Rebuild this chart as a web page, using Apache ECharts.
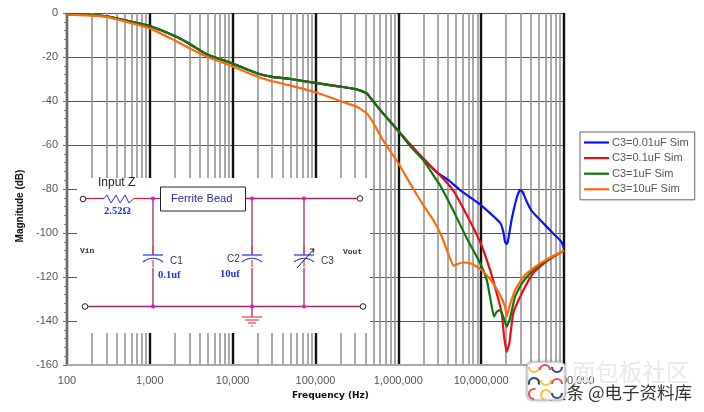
<!DOCTYPE html>
<html><head><meta charset="utf-8">
<style>html,body{margin:0;padding:0;background:#fff}#c{width:704px;height:412px;filter:blur(0.45px)}</style>
<script src="https://cdn.jsdelivr.net/npm/echarts@6/dist/echarts.min.js"></script>
</head><body><div id="c"></div>
<script>
const seriesNames = ['C3=0.01uF Sim','C3=0.1uF Sim','C3=1uF Sim','C3=10uF Sim'];
const seriesColors = ['#0a14f0','#f00a14','#0a780f','#ff6a0a'];
const yTicks = [0,-20,-40,-60,-80,-100,-120,-140,-160];
const lowFreq = [100,200,300,400,500,1000,2000,3000,5000,1e4,2e4,3e4,5e4,1e5,2e5,3.14e5,4.15e5,5e5,6.5e5,1e6,1.38e6,2e6,2.9e6];
const commonDb = [-0.5,-0.9,-1.5,-2.5,-3.3,-5.9,-10.5,-14,-19,-23,-27.5,-29,-30,-31.8,-33.5,-34.7,-36.5,-40.3,-45.5,-53.6,-59.7,-66.2,-72.3];
const blueFreq = [4.2e6,5.56e6,9.7e6,1.69e7,1.85e7,1.94e7,2.03e7,2.1e7,2.33e7,2.68e7,2.94e7,3.16e7,3.55e7,4.07e7,5.13e7,7.4e7,9.3e7,1e8];
const blueDb = [-76.5,-80.5,-87,-95.3,-99.4,-104,-105,-104,-94,-84.2,-80.5,-81.2,-85.8,-89.9,-94,-100.2,-104,-107];
const redFreq = [3.18e6,4.57e6,6.7e6,9.7e6,1.28e7,1.54e7,1.77e7,1.89e7,2.03e7,2.19e7,2.44e7,3.1e7,4.25e7,6.2e7,1e8];
const redDb = [-73.8,-80.5,-91.8,-104,-116.8,-127.4,-136.4,-147,-154,-150,-136.5,-127.4,-118.2,-112.8,-108];
const greenFreq = [2.9e6,3.18e6,4.57e6,6.7e6,9.7e6,1.17e7,1.3e7,1.43e7,1.54e7,1.69e7,1.85e7,2.03e7,2.23e7,2.56e7,3.1e7,4.24e7,6.2e7,1e8];
const greenDb = [-76,-78.2,-89.5,-102.4,-113.6,-121.4,-130.5,-138,-135.8,-135,-138,-142.6,-138.8,-129,-122.9,-116.8,-112.3,-108];
const orangeFreq = [100,200,300,400,500,1000,2000,3000,5000,1e4,2e4,3e4,5e4,1e5,2e5,3.14e5,4.15e5,5e5,6.5e5,1e6,1.5e6,2e6,2.63e6,3.35e6,4.2e6,4.68e6,5.3e6,6.1e6,7.7e6,1.01e7,1.34e7,1.69e7,1.94e7,2.03e7,2.19e7,2.56e7,3.24e7,4.27e7,6.2e7,1e8];
const orangeDb = [-0.8,-1.2,-1.8,-2.9,-3.8,-7,-12.5,-16,-20,-24.3,-29,-31,-33,-36,-40,-42.6,-45.6,-50,-57.7,-68.3,-79.7,-87.3,-94,-101.7,-111.5,-114.9,-114,-113.3,-114,-116.8,-122,-128.2,-133.5,-138,-133.5,-126,-119.9,-116,-112,-108];
const zip = (a,b)=>a.map((v,i)=>[v,b[i]]);
const curves = [
  zip(lowFreq,commonDb).concat(zip(blueFreq,blueDb)),
  zip(lowFreq.slice(0,-1),commonDb.slice(0,-1)).concat(zip(redFreq,redDb)),
  zip(lowFreq.slice(0,-1),commonDb.slice(0,-1).map((v,i)=>i>19?v-0.7:v)).concat(zip(greenFreq,greenDb)),
  zip(orangeFreq,orangeDb)
];
const W='#9c2a68', B='#2233dd', SANS='"Liberation Sans",Arial,sans-serif', SERIF='"Liberation Serif",serif';
const line=(x1,y1,x2,y2,c=W,w=1.3)=>({type:'line',shape:{x1,y1,x2,y2},style:{stroke:c,lineWidth:w}});
const dot=(x,y)=>({type:'circle',shape:{cx:x,cy:y,r:2.1},style:{fill:'#ee11cc'}});
const term=(x,y)=>({type:'circle',shape:{cx:x,cy:y,r:2.8},style:{fill:'#fff',stroke:'#222',lineWidth:1}});
const txt=(x,y,t,s,f,c,w='normal')=>({type:'text',x,y,style:{text:t,fontSize:s,fontFamily:f,fill:c,fontWeight:w,verticalAlign:'middle',align:'left'}});
const cap=(x,top)=>[
  line(x-10,top,x+10,top,B,1.2),
  {type:'bezierCurve',shape:{x1:x-10,y1:top+7,cpx1:x-4,cpy1:top+2,x2:x+10,y2:top+7,cpx2:x+4,cpy2:top+2},style:{stroke:B,lineWidth:1.2,fill:null}},
  line(x,top-9,x,top-1,'#e8404a',1.2),
  line(x,top+5,x,top+12,'#e8404a',1.2)
];
const arc=(cx,cy,r,a,b,c)=>({type:'arc',shape:{cx,cy,r,startAngle:a,endAngle:b},style:{stroke:c,lineWidth:2.2,fill:null}});
const P=Math.PI, Y='#f5c542', R='#e8505b', N='#3c4a82';
const graphics=[
  {type:'rect',shape:{x:77,y:178,width:293,height:155},style:{fill:'#fff'}},
  line(86,198.5,94,198.5,'#e0203a',1.2),line(94,198.5,104,198.5,W),
  {type:'polyline',shape:{points:[[104,198.5],[107,195],[111,203],[116,195],[120,203],[125,195],[129,203],[134,198.5]]},style:{stroke:B,lineWidth:1,fill:null}},
  line(134,198.5,145,198.5,'#e0203a',1.2),line(145,198.5,160,198.5,W),
  line(246,198.5,357,198.5),line(88,306.5,360,306.5),
  line(153,198.5,153,255),line(153,268,153,306.5),
  line(252,198.5,252,255),line(252,268,252,306.5),
  line(304,198.5,304,255),line(304,268,304,306.5),
  line(252,306.5,252,317),
  line(242,317,262,317,'#f0404a',1.2),line(245,320,259,320,'#f0404a',1.2),line(248,323,256,323,'#f0404a',1.2),line(251,326,253,326,'#f0404a',1.2),
  ...cap(153,255),...cap(252,255),...cap(304,255),
  line(297,268,314,249,'#222',1),
  {type:'polyline',shape:{points:[[310,249],[314,249],[313,253]]},style:{stroke:'#222',lineWidth:1,fill:null}},
  dot(153,198.5),dot(252,198.5),dot(304,198.5),dot(153,306.5),dot(252,306.5),dot(304,306.5),
  term(83,199),term(85,306.5),term(360,198.5),term(363,306.5),
  {type:'rect',shape:{x:160.5,y:187,width:85,height:24},style:{fill:'#fff',stroke:'#222',lineWidth:1}},
  txt(171,199,'Ferrite Bead',11.2,SANS,'#2a2f9a'),
  txt(98,183,'Input Z',12,SANS,'#222'),
  txt(104,211,'2.52Ω',10.5,SERIF,B,'bold'),
  txt(158,275,'0.1uf',10.5,SERIF,B,'bold'),
  txt(220,274,'10uf',10.5,SERIF,B,'bold'),
  txt(170,261,'C1',10,SANS,'#334'),
  txt(227,259,'C2',10,SANS,'#334'),
  txt(321,261,'C3',10,SANS,'#334'),
  txt(80,251,'Vin',8,'"Liberation Mono",monospace','#333','bold'),
  txt(343,252,'Vout',8,'"Liberation Mono",monospace','#333','bold'),
  txt(572,372,'面包板社区',23.5,'"Noto Sans CJK SC"','#e8e8e8'),
  txt(549,392,'头条 @电子资料库',17.5,'"Noto Sans CJK SC"','#333'),
  {type:'rect',shape:{x:527,y:362,width:38,height:38,r:5},style:{fill:'#fff',stroke:'#bbb',lineWidth:1,shadowBlur:3,shadowColor:'rgba(0,0,0,.3)'}},
  arc(534,367,5,0,P,Y),arc(545,370,5,P,2*P,R),arc(557,367,5,0,P,N),
  arc(534,383,5,P*.9,P*2.1,N),arc(546,380,5,0,P,Y),arc(557,384,5,P,2*P,R),
  arc(534,394,5,P*.5,P*1.6,R),arc(546,395,5,P*.6,P*1.9,Y),arc(557,393,5,0,P,N)
];
const chart=echarts.init(document.getElementById('c'),null,{renderer:'canvas'});
chart.setOption({
  animation:false,backgroundColor:'#fff',
  grid:{left:67,top:13,right:140,bottom:47},
  legend:{left:580,top:132,orient:'vertical',width:114,padding:[5,6,5,4],itemGap:4.6,itemWidth:25,itemHeight:12,
    borderColor:'#666',borderWidth:1,backgroundColor:'#fff',icon:'path://M0 0H25V2.2H0Z',
    textStyle:{fontFamily:SANS,fontSize:11,color:'#555',padding:[0,0,0,-2]},data:seriesNames},
  xAxis:{type:'log',logBase:10,min:100,max:1e8,name:'Frequency (Hz)',nameLocation:'middle',nameGap:26,
    nameTextStyle:{fontFamily:'"DejaVu Sans"',fontWeight:'bold',fontSize:9,color:'#111',padding:[0,0,0,30]},
    axisLine:{show:true,onZero:false,lineStyle:{color:'#aaa',width:2}},axisTick:{show:false},
    axisLabel:{fontFamily:SANS,fontSize:11,color:'#555',margin:10,showMinLabel:true,showMaxLabel:true,formatter:v=>Number(v).toLocaleString('en-US')},
    splitLine:{show:true,lineStyle:{color:'#111',width:2.4}},
    minorTick:{show:false,splitNumber:9},minorSplitLine:{show:true,lineStyle:{color:'#949494',width:1.6}}},
  yAxis:{type:'value',min:-160,max:0,interval:20,name:'Magnitude (dB)',nameLocation:'middle',nameGap:39,nameRotate:90,
    nameTextStyle:{fontFamily:SANS,fontWeight:'bold',fontSize:10,color:'#111',padding:[0,0,0,-34]},
    axisLine:{show:true,onZero:false,lineStyle:{color:'#888',width:1.5}},
    axisTick:{show:true,inside:false,length:4,lineStyle:{color:'#777'}},
    minorTick:{show:true,splitNumber:5,length:3,lineStyle:{color:'#777'}},
    axisLabel:{fontFamily:SANS,fontSize:11,color:'#555',margin:9,customValues:yTicks},
    splitLine:{show:true,lineStyle:{color:'#555',width:1}}},
  series:seriesNames.map((n,i)=>({name:n,type:'line',data:curves[i],smooth:0.15,showSymbol:false,symbol:'none',z:5+i,
    lineStyle:{color:seriesColors[i],width:2.2},itemStyle:{color:seriesColors[i]},clip:true})),
  graphic:{elements:graphics.map(g=>Object.assign({z:100},g))}
});
</script></body></html>
